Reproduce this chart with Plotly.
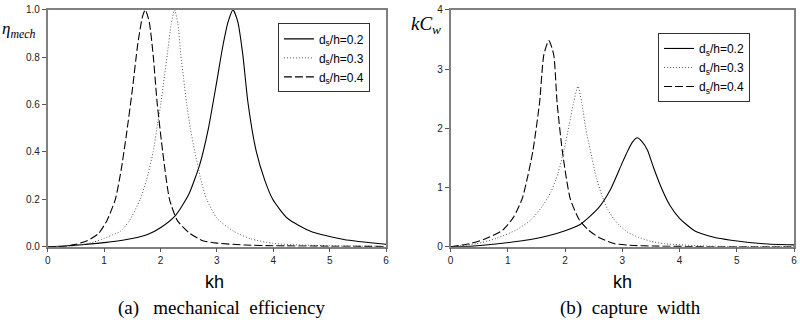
import plotly.graph_objects as go

# ---------------- data ----------------
# (a) mechanical efficiency
kh_a_02 = [0, 0.3, 0.6, 1.0, 1.4, 1.76, 2.0, 2.26, 2.5, 2.7, 2.85, 3.0, 3.1, 3.2, 3.285,
           3.37, 3.46, 3.55, 3.7, 3.85, 3.99, 4.25, 4.66, 5.25, 6.0]
eta_02 = [0, 0.003, 0.008, 0.017, 0.03, 0.05, 0.08, 0.13, 0.22, 0.35, 0.5, 0.7, 0.84, 0.95, 1.0,
          0.95, 0.81, 0.61, 0.40, 0.28, 0.2, 0.12, 0.065, 0.03, 0.01]

kh_a_03 = [0, 0.4, 0.6, 0.82, 1.0, 1.15, 1.29, 1.45, 1.64, 1.75, 1.87, 1.95, 2.01, 2.07, 2.12,
           2.19, 2.25, 2.31, 2.36, 2.41, 2.46, 2.53, 2.61, 2.73, 2.82, 3.0, 3.3, 3.6, 4.0, 4.5, 5.0, 6.0]
eta_03 = [0, 0.002, 0.008, 0.02, 0.035, 0.05, 0.065, 0.11, 0.2, 0.28, 0.40, 0.52, 0.61, 0.72, 0.81,
          0.94, 1.0, 0.94, 0.81, 0.71, 0.61, 0.5, 0.40, 0.27, 0.2, 0.12, 0.065, 0.033, 0.014, 0.007, 0.004, 0.001]

kh_a_04 = [0, 0.3, 0.5, 0.7, 0.9, 1.05, 1.2, 1.3, 1.4, 1.5, 1.6, 1.68, 1.73, 1.8, 1.87, 1.94,
           2.04, 2.16, 2.3, 2.5, 2.75, 3.0, 3.5, 4.0, 5.0, 6.0]
eta_04 = [0, 0.002, 0.01, 0.025, 0.055, 0.11, 0.2, 0.32, 0.48, 0.66, 0.86, 0.97, 1.0, 0.95, 0.81, 0.61,
          0.40, 0.2, 0.11, 0.06, 0.025, 0.015, 0.007, 0.004, 0.002, 0.001]

# (b) capture width
kh_b_02 = [0, 0.4, 1.02, 1.4, 1.72, 2.0, 2.27, 2.58, 2.8, 3.0, 3.1, 3.18, 3.26, 3.34, 3.44, 3.54,
           3.68, 3.83, 4.0, 4.26, 4.6, 4.9, 5.47, 6.0]
kcw_02 = [0, 0.01, 0.07, 0.12, 0.19, 0.27, 0.38, 0.65, 0.98, 1.42, 1.63, 1.77, 1.84, 1.78, 1.63, 1.35,
          1.0, 0.70, 0.48, 0.27, 0.16, 0.11, 0.05, 0.03]

kh_b_03 = [0, 0.45, 0.8, 1.14, 1.4, 1.6, 1.75, 1.88, 1.98, 2.07, 2.15, 2.225, 2.29, 2.36, 2.44,
           2.55, 2.65, 2.75, 2.85, 2.95, 3.1, 3.28, 3.5, 3.74, 4.5, 6.0]
kcw_03 = [0, 0.05, 0.14, 0.28, 0.45, 0.68, 0.92, 1.25, 1.63, 2.05, 2.44, 2.71, 2.44, 2.0, 1.63,
          1.15, 0.85, 0.62, 0.47, 0.36, 0.24, 0.16, 0.09, 0.05, 0.01, 0.0]

kh_b_04 = [0, 0.33, 0.6, 0.91, 1.1, 1.25, 1.35, 1.44, 1.555, 1.63, 1.717, 1.80, 1.86, 1.95, 2.09,
           2.25, 2.41, 2.6, 2.87, 3.2, 3.6, 4.5, 6.0]
kcw_04 = [0, 0.05, 0.13, 0.28, 0.5, 0.81, 1.2, 1.63, 2.44, 3.25, 3.48, 3.25, 2.44, 1.63, 0.81,
          0.45, 0.28, 0.15, 0.05, 0.02, 0.01, 0.0, 0.0]

legend_names = ["d<sub>s</sub>/h=0.2", "d<sub>s</sub>/h=0.3", "d<sub>s</sub>/h=0.4"]
x_ticks = [0, 1, 2, 3, 4, 5, 6]
y_ticks_a = [0.0, 0.2, 0.4, 0.6, 0.8, 1.0]
y_ticks_b = [0, 1, 2, 3, 4]

# ---------------- figure ----------------
fig = go.Figure()
styles = [dict(color="black", width=1.1, dash="solid"),
          dict(color="#555", width=1, dash="1px,2px"),
          dict(color="black", width=1.1, dash="8px,3px")]

for (x, y), name, st in zip([(kh_a_02, eta_02), (kh_a_03, eta_03), (kh_a_04, eta_04)], legend_names, styles):
    fig.add_trace(go.Scatter(x=x, y=y, mode="lines", name=name, line=dict(shape="spline", smoothing=0.6, **st),
                             xaxis="x", yaxis="y", legend="legend"))
for (x, y), name, st in zip([(kh_b_02, kcw_02), (kh_b_03, kcw_03), (kh_b_04, kcw_04)], legend_names, styles):
    fig.add_trace(go.Scatter(x=x, y=y, mode="lines", name=name, line=dict(shape="spline", smoothing=0.6, **st),
                             xaxis="x2", yaxis="y2", legend="legend2"))

W, H = 800, 322
ytop, ybot = 4, 250
ydom = [1 - ybot / H, 1 - ytop / H]

axis_common = dict(showline=True, linecolor="#808080", linewidth=1.5, mirror=True,
                   ticks="outside", ticklen=4, tickcolor="#555", tickwidth=1,
                   showgrid=False, zeroline=False, ticklabeloverflow="allow",
                   tickfont=dict(family="Liberation Sans, Arial", size=10, color="#222"))

fig.update_layout(
    width=W, height=H,
    margin=dict(l=0, r=0, t=0, b=0),
    paper_bgcolor="white", plot_bgcolor="white",
    xaxis=dict(domain=[45 / W, 386 / W], range=[0, 6], tickvals=x_ticks, anchor="y", **axis_common),
    yaxis=dict(domain=ydom, range=[0, 1.0], tickvals=y_ticks_a, tickformat=".1f", anchor="x", **axis_common),
    xaxis2=dict(domain=[451 / W, 797 / W], range=[0, 6], tickvals=x_ticks, anchor="y2", **axis_common),
    yaxis2=dict(domain=ydom, range=[0, 4], tickvals=y_ticks_b, anchor="x2", **axis_common),
    legend=dict(x=277 / W, y=1 - 18 / H, xanchor="left", yanchor="top",
                bordercolor="#333", borderwidth=1, bgcolor="white",
                font=dict(family="Liberation Sans, Arial", size=12, color="black"),
                tracegroupgap=0, itemwidth=30),
    legend2=dict(x=660 / W, y=1 - 28 / H, xanchor="left", yanchor="top",
                 bordercolor="#333", borderwidth=1, bgcolor="white",
                 font=dict(family="Liberation Sans, Arial", size=12, color="black"),
                 tracegroupgap=0, itemwidth=30),
    showlegend=True,
)

ann_font = dict(family="Liberation Sans, Arial", size=18, color="black")
serif = dict(family="Liberation Serif, Times New Roman", size=19, color="black")
common = dict(xref="paper", yref="paper", showarrow=False, xanchor="center", yanchor="middle")
fig.add_annotation(text="kh", x=213 / W, y=1 - 287 / H, font=ann_font, **common)
fig.add_annotation(text="kh", x=624 / W, y=1 - 287 / H, font=ann_font, **common)
fig.add_annotation(text="(a)&nbsp;&nbsp;&nbsp;mechanical&nbsp;&nbsp;efficiency", x=220 / W, y=1 - 314 / H,
                   font=serif, **common)
fig.add_annotation(text="(b)&nbsp;&nbsp;capture&nbsp;&nbsp;width", x=632 / W, y=1 - 314 / H, font=serif, **common)
fig.add_annotation(text="<i>η<sub>mech</sub></i>", x=16 / W, y=1 - 25 / H,
                   font=dict(family="Liberation Serif, Times New Roman", size=17, color="black"), **common)
fig.add_annotation(text="<i>kC<sub>w</sub></i>", x=426 / W, y=1 - 20 / H,
                   font=dict(family="Liberation Serif, Times New Roman", size=19, color="black"), **common)

fig.write_html("out.html")
